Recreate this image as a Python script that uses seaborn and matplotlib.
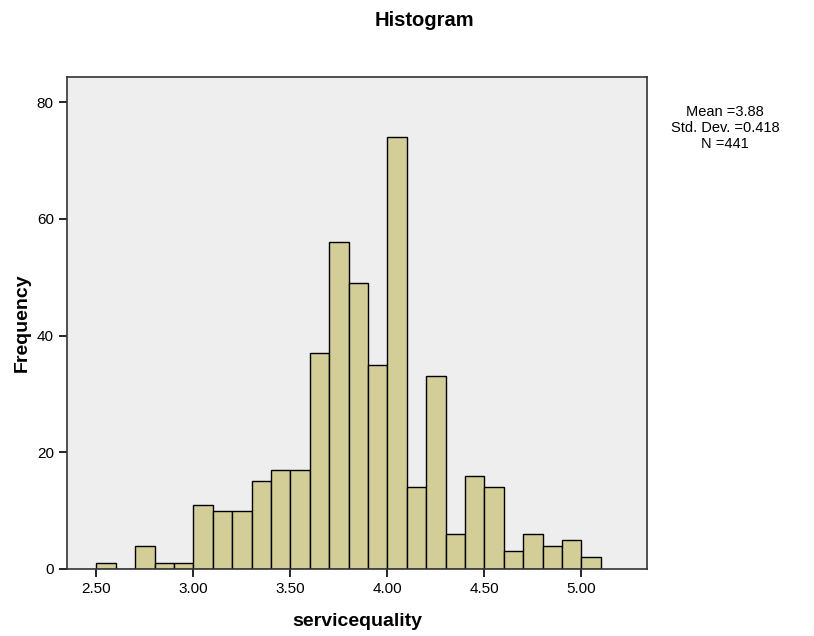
import numpy as np
import matplotlib
matplotlib.use("Agg")
import matplotlib.pyplot as plt
import seaborn as sns

# --- data (bins of width 0.1 from 2.5 to 5.1) ---
bin_edges = [round(2.5 + 0.1 * i, 2) for i in range(27)]
bin_counts = [1, 0, 4, 1, 1, 11, 10, 10, 15, 17, 17, 37, 56, 49, 35,
              74, 14, 33, 6, 16, 14, 3, 6, 4, 5, 2]
x_ticks = [2.5, 3.0, 3.5, 4.0, 4.5, 5.0]
x_tick_labels = ["2.50", "3.00", "3.50", "4.00", "4.50", "5.00"]
y_ticks = [0, 20, 40, 60, 80]
stats_text = "Mean =3.88\nStd. Dev. =0.418\nN =441"

bin_centers = [(bin_edges[i] + bin_edges[i + 1]) / 2 for i in range(len(bin_counts))]

sns.set_style("white")
plt.rcParams['font.family'] = ['Liberation Sans', 'DejaVu Sans']
plt.rcParams['text.color'] = 'black'
plt.rcParams['xtick.color'] = 'black'
plt.rcParams['ytick.color'] = 'black'
plt.rcParams['axes.labelcolor'] = 'black'

fig = plt.figure(figsize=(8.14, 6.36), dpi=100)
ax = fig.add_axes([67 / 814, 67 / 636, 580 / 814, 492 / 636])
ax.set_facecolor("#EEEEEE")

sns.histplot(x=bin_centers, weights=bin_counts, bins=bin_edges, ax=ax,
             color="#D3CE97", alpha=1.0, edgecolor="black", linewidth=1.0)

ax.set_xlim(2.348, 5.338)
ax.set_ylim(0, 84.3)
ax.set_xticks(x_ticks)
ax.set_xticklabels(x_tick_labels)
ax.set_yticks(y_ticks)
ax.tick_params(axis="both", direction="out", length=6, width=1.2,
               labelsize=11, bottom=True, left=True)

for spine in ax.spines.values():
    spine.set_visible(True)
    spine.set_color("#333333")
    spine.set_linewidth(1.2)

ax.set_xlabel("servicequality", fontsize=14, fontweight="bold")
ax.set_ylabel("Frequency", fontsize=14, fontweight="bold")
ax.xaxis.set_label_coords(0.5, -44 / 492)
ax.yaxis.set_label_coords(-36 / 580, 0.5)

fig.text(424 / 814, 1 - 20 / 636, "Histogram", ha="center", va="center",
         fontsize=14.5, fontweight="bold")
fig.text(725 / 814, 1 - 128 / 636, stats_text, ha="center", va="center",
         fontsize=10.5, linespacing=1.15)

fig.savefig("out.png", dpi=100)
